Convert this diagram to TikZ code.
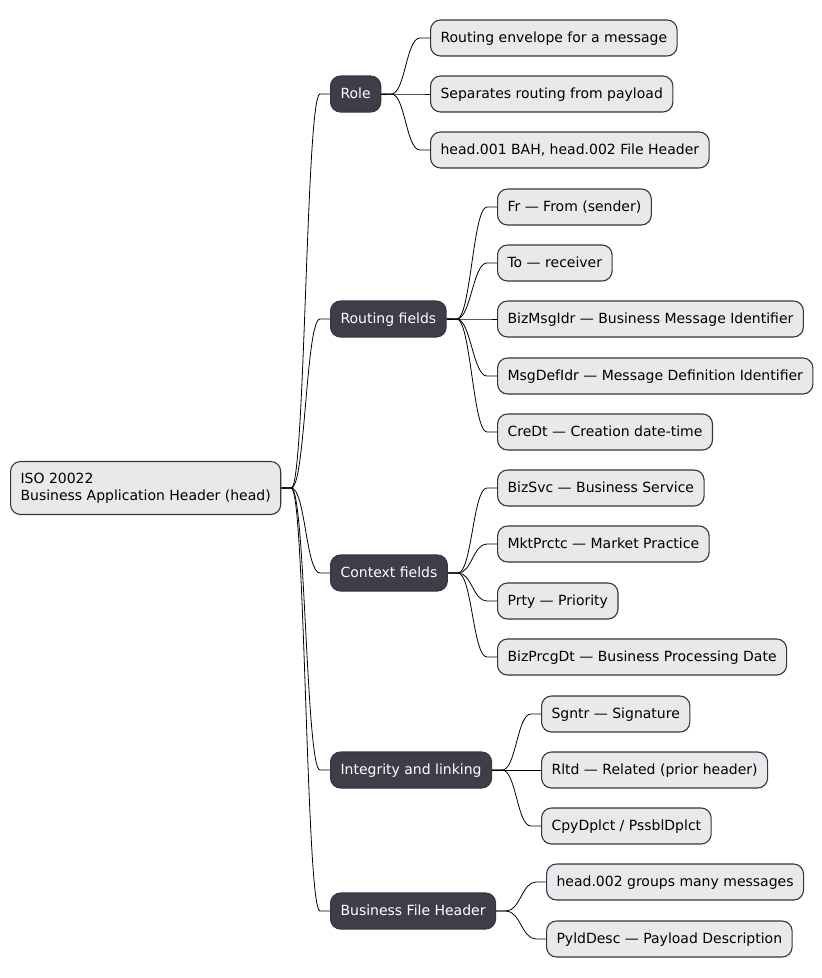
\documentclass[tikz,border=0pt]{standalone}
\usepackage{fontspec}
\setmainfont{DejaVu Sans}
\usetikzlibrary{positioning}
\definecolor{leaffill}{HTML}{E9E9EC}
\definecolor{boxline}{HTML}{353540}
\definecolor{darkfill}{HTML}{3E3E48}

\begin{document}
\begin{tikzpicture}[x=1pt,y=-1pt,
	box/.style={draw=boxline,line width=1.1pt,rounded corners=10pt,anchor=west,inner xsep=10pt,minimum height=36pt,font=\fontsize{14}{17}\selectfont},
	oneline/.style={text height=12.5pt,text depth=3.3pt},
	rootbox/.style={box,fill=leaffill,text=black,align=left,minimum height=53pt},
	leaf/.style={box,oneline,fill=leaffill,text=black},
	topic/.style={box,oneline,fill=darkfill,text=white},
	link/.style={line width=0.8pt,black}]
	\useasboundingbox (0,0) rectangle (822,978);

	\node[rootbox] (root) at (10,488) {ISO 20022\\Business Application Header (head)};

	\node[topic] (role) at (330,94) {Role};
	\node[topic] (routing) at (330,319) {Routing fields};
	\node[topic] (context) at (330,573) {Context fields};
	\node[topic] (integrity) at (330,770) {Integrity and linking};
	\node[topic] (bfh) at (330,911) {Business File Header};

	\node[leaf] (role1) at (430,38) {Routing envelope for a message};
	\node[leaf] (role2) at (430,94) {Separates routing from payload};
	\node[leaf] (role3) at (430,150) {head.001 BAH, head.002 File Header};

	\node[leaf] (rt1) at (497,207) {Fr — From (sender)};
	\node[leaf] (rt2) at (497,263) {To — receiver};
	\node[leaf] (rt3) at (497,319) {BizMsgIdr — Business Message Identifier};
	\node[leaf] (rt4) at (497,376) {MsgDefIdr — Message Definition Identifier};
	\node[leaf] (rt5) at (497,432) {CreDt — Creation date-time};

	\node[leaf] (ct1) at (497,488) {BizSvc — Business Service};
	\node[leaf] (ct2) at (497,544) {MktPrctc — Market Practice};
	\node[leaf] (ct3) at (497,601) {Prty — Priority};
	\node[leaf] (ct4) at (497,657) {BizPrcgDt — Business Processing Date};

	\node[leaf] (in1) at (541,714) {Sgntr — Signature};
	\node[leaf] (in2) at (541,770) {Rltd — Related (prior header)};
	\node[leaf] (in3) at (541,826) {CpyDplct / PssblDplct};

	\node[leaf] (bf1) at (546,882) {head.002 groups many messages};
	\node[leaf] (bf2) at (546,939) {PyldDesc — Payload Description};

	% connectors, parent/child
	\foreach \p/\c in {root/role,root/routing,root/context,root/integrity,root/bfh,
		role/role1,role/role2,role/role3,
		routing/rt1,routing/rt2,routing/rt3,routing/rt4,routing/rt5,
		context/ct1,context/ct2,context/ct3,context/ct4,
		integrity/in1,integrity/in2,integrity/in3,
		bfh/bf1,bfh/bf2}
		\draw[link] (\p.east) -- ++(10,0) .. controls +(14,0) and +(-14,0) .. ([xshift=-10pt]\c.west) -- (\c.west);
\end{tikzpicture}
\end{document}
